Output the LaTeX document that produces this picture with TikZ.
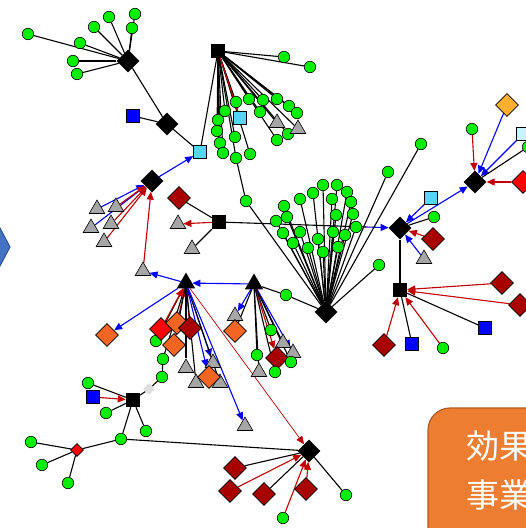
\documentclass[tikz,border=0pt]{standalone}
\usepackage{fontspec}
\newfontfamily\cjk{Noto Sans CJK JP}
\usetikzlibrary{shapes.geometric,arrows.meta,backgrounds}

\definecolor{ngreen}{HTML}{00EE00}
\definecolor{dred}{HTML}{A80000}
\definecolor{bred}{HTML}{FF0000}
\definecolor{norange}{HTML}{F26522}
\definecolor{yorange}{HTML}{FFB030}
\definecolor{lblue}{HTML}{55D6F5}
\definecolor{lcyan}{HTML}{C8F4FF}
\definecolor{tgray}{HTML}{A6A6A6}
\definecolor{eblue}{HTML}{0000FF}
\definecolor{ered}{HTML}{C00000}
\definecolor{boxorange}{HTML}{ED7D31}
\definecolor{boxline}{HTML}{AE5A21}
\definecolor{slideblue}{HTML}{4472C4}
\definecolor{slideline}{HTML}{2F528F}

\tikzset{
  grn/.style={circle, draw=black, fill=ngreen, minimum size=11.5pt, inner sep=0pt, line width=0.6pt},
  hubd/.style={diamond, fill=black, minimum size=23pt, inner sep=0pt},
  hubs/.style={rectangle, fill=black, minimum size=14pt, inner sep=0pt},
  hubt/.style={regular polygon, regular polygon sides=3, fill=black, minimum size=21pt, inner sep=0pt},
  gtri/.style={regular polygon, regular polygon sides=3, draw=black, fill=tgray, minimum size=18pt, inner sep=0pt, line width=0.6pt},
  rdia/.style={diamond, draw=black, fill=dred, minimum size=23pt, inner sep=0pt, line width=0.6pt},
  reddia/.style={rdia, fill=bred},
  odia/.style={rdia, fill=norange},
  ydia/.style={rdia, fill=yorange},
  bsq/.style={rectangle, draw=black, fill=eblue, minimum size=13pt, inner sep=0pt, line width=0.6pt},
  lbsq/.style={bsq, fill=lblue},
  lcsq/.style={bsq, fill=lcyan},
  lnk/.style={black, line width=1.1pt},
  redarr/.style={ered, line width=1.1pt, -{Triangle[length=8pt,width=7pt]}},
  bluearr/.style={eblue, line width=1.1pt, -{Triangle[length=8pt,width=7pt]}},
}

\begin{document}
\begin{tikzpicture}[x=1pt,y=-1pt]
  \useasboundingbox (0,0) rectangle (526,528);

  % slide shapes
  \draw[fill=slideblue, draw=slideline, line width=1pt] (-20,190) -- (10,247) -- (-20,304) -- cycle;
  \draw[fill=boxorange, draw=boxline, line width=1.2pt, rounded corners=22pt] (428,408) rectangle (580,580);
  \node[anchor=west, text=white, font=\cjk\fontsize{33}{33}\selectfont] (txtA) at (463,446) {効果};
  \node[anchor=west, text=white, font=\cjk\fontsize{33}{33}\selectfont] (txtB) at (463,495) {事業};

  % upper left
  \node[hubd] (A) at (128,61) {};
  \node[grn] (a1) at (28,34) {};
  \node[grn] (a2) at (80,43) {};
  \node[grn] (a3) at (94,27) {};
  \node[grn] (a4) at (109,17) {};
  \node[grn] (a5) at (135,14) {};
  \node[grn] (a6) at (132,28) {};
  \node[grn] (a7) at (73,61) {};
  \node[grn] (a8) at (77,74) {};
  \node[hubd] (B) at (167,124) {};
  \node[bsq] (bs1) at (133,116) {};
  \node[lbsq] (C) at (200,152) {};
  \node[hubd] (D) at (152,181) {};
  \node[gtri] (t1) at (97,209) {};
  \node[gtri] (t2) at (116,207) {};
  \node[gtri] (t3) at (91,228) {};
  \node[gtri] (t4) at (111,224) {};
  \node[gtri] (t5) at (104,242) {};
  \node[rdia] (rd1) at (179,198) {};
  \node[hubs] (E) at (219,222) {};
  \node[gtri] (t6) at (178,224) {};
  \node[gtri] (t7) at (192,249) {};
  \node[gtri] (t8) at (143,271) {};

  % top fan
  \node[hubs] (G) at (218,51) {};
  \node[grn] (g1) at (284,57) {};
  \node[grn] (g2) at (310,67) {};
  \node[grn] (f1) at (236,102) {};
  \node[grn] (f2) at (249,99) {};
  \node[grn] (f3) at (263,100) {};
  \node[grn] (f4) at (277,99) {};
  \node[grn] (f5) at (289,106) {};
  \node[grn] (f6) at (297,113) {};
  \node[grn] (f7) at (225,111) {};
  \node[grn] (f8) at (260,112) {};
  \node[grn] (f9) at (218,120) {};
  \node[grn] (f10) at (217,131) {};
  \node[grn] (f11) at (220,143) {};
  \node[grn] (f12) at (223,153) {};
  \node[grn] (f13) at (236,158) {};
  \node[grn] (f14) at (235,137) {};
  \node[grn] (f15) at (250,154) {};
  \node[grn] (f16) at (277,140) {};
  \node[grn] (f17) at (288,134) {};
  \node[lbsq] (lb2) at (240,118) {};
  \node[gtri] (t9) at (277,123) {};
  \node[gtri] (t10) at (298,129) {};
  \node[grn] (g3) at (246,201) {};

  % centre dome
  \node[hubd] (H) at (326,312) {};
  \node[grn] (d1) at (323,185) {};
  \node[grn] (d2) at (337,185) {};
  \node[grn] (d3) at (313,193) {};
  \node[grn] (d4) at (347,192) {};
  \node[grn] (d5) at (300,199) {};
  \node[grn] (d6) at (332,199) {};
  \node[grn] (d7) at (351,202) {};
  \node[grn] (d8) at (284,206) {};
  \node[grn] (d9) at (287,217) {};
  \node[grn] (d10) at (276,221) {};
  \node[grn] (d11) at (336,215) {};
  \node[grn] (d12) at (353,214) {};
  \node[grn] (d13) at (283,233) {};
  \node[grn] (d14) at (300,232) {};
  \node[grn] (d15) at (333,232) {};
  \node[grn] (d16) at (356,227) {};
  \node[grn] (d17) at (293,243) {};
  \node[grn] (d18) at (318,239) {};
  \node[grn] (d19) at (345,235) {};
  \node[grn] (d20) at (308,248) {};
  \node[grn] (d21) at (323,252) {};
  \node[grn] (d22) at (338,247) {};
  \node[grn] (g4) at (286,295) {};
  \node[grn] (g5) at (379,265) {};
  \node[grn] (g6) at (388,172) {};
  \node[grn] (g7) at (421,144) {};

  % right side
  \node[hubd] (F) at (400,228) {};
  \coordinate (ef) at (366,227);
  \node[lbsq] (lb3) at (431,198) {};
  \node[grn] (g8) at (434,217) {};
  \node[rdia] (rd2) at (433,239) {};
  \node[gtri] (t11) at (424,259) {};
  \node[hubd] (K) at (475,182) {};
  \node[ydia] (od1) at (507,105) {};
  \node[grn] (g9) at (472,129) {};
  \node[lcsq] (lc1) at (523,134) {};
  \node[grn] (g10) at (528,147) {};
  \node[reddia] (rdd1) at (523,182) {};
  \node[hubs] (L) at (400,290) {};
  \node[rdia] (rd3) at (502,283) {};
  \node[rdia] (rd4) at (520,305) {};
  \node[bsq] (bs2) at (485,328) {};
  \node[rdia] (rd5) at (384,345) {};
  \node[bsq] (bs3) at (412,344) {};
  \node[grn] (g11) at (443,348) {};

  % triangle hubs
  \node[hubt] (J1) at (186,283) {};
  \node[hubt] (J2) at (254,284) {};
  \node[odia] (od2) at (107,335) {};
  \node[grn] (g12) at (156,341) {};
  \node[grn] (g13) at (163,359) {};
  \node[grn] (g14) at (162,377) {};
  \node[reddia] (rdd2) at (161,329) {};
  \node[odia] (od3) at (177,323) {};
  \node[odia] (od4) at (174,345) {};
  \node[rdia] (rd6) at (190,328) {};
  \node[gtri] (t12) at (186,368) {};
  \node[gtri] (t13) at (213,363) {};
  \node[gtri] (t14) at (196,383) {};
  \node[gtri] (t15) at (220,383) {};
  \node[odia] (od5) at (209,377) {};
  \node[gtri] (t16) at (245,426) {};
  \node[gtri] (t17) at (235,316) {};
  \node[odia] (od6) at (235,331) {};
  \node[grn] (g15) at (271,330) {};
  \node[gtri] (t18) at (283,343) {};
  \node[gtri] (t19) at (293,353) {};
  \node[rdia] (rd7) at (277,358) {};
  \node[grn] (g16) at (257,355) {};
  \node[grn] (g17) at (291,362) {};
  \node[gtri] (t20) at (259,372) {};
  \node[grn] (g18) at (275,372) {};

  % lower left
  \node[hubs] (N) at (133,400) {};
  \node[diamond, fill=gray!25, minimum size=12pt, inner sep=0pt] (lg1) at (149,389) {};
  \node[grn] (g19) at (88,383) {};
  \node[bsq] (bs4) at (93,397) {};
  \node[grn] (g20) at (106,413) {};
  \node[grn] (g21) at (146,431) {};
  \node[grn] (g22) at (121,439) {};
  \node[reddia, minimum size=13pt] (P) at (77,450) {};
  \node[grn] (g23) at (31,442) {};
  \node[grn] (g24) at (42,465) {};
  \node[grn] (g25) at (68,483) {};

  % bottom hub
  \node[hubd] (M) at (309,451) {};
  \node[rdia] (rd8) at (235,468) {};
  \node[rdia] (rd9) at (230,491) {};
  \node[rdia] (rd10) at (264,494) {};
  \node[rdia] (rd11) at (306,489) {};
  \node[grn] (g26) at (346,495) {};
  \node[grn] (g27) at (283,518) {};

  \begin{scope}[on background layer]
    \foreach \i in {1,...,8} \draw[lnk] (A) -- (a\i);
    \draw[lnk] (A) -- (B);
    \draw[lnk] (B) -- (bs1);
    \draw[lnk] (B) -- (C);
    \draw[bluearr] (D) -- (C);
    \draw[bluearr] (t1) -- (D);
    \draw[bluearr] (t3) -- (D);
    \draw[redarr] (t2) -- (D);
    \draw[redarr] (t4) -- (D);
    \draw[redarr] (t5) -- (D);
    \draw[redarr] (t8) -- (D);
    \draw[lnk] (rd1) -- (E);
    \draw[redarr] (E) -- (t6);
    \draw[lnk] (t7) -- (E);
    \draw[lnk] (E) -- (ef);
    \draw[bluearr] (ef) -- (F);

    \draw[lnk] (G) -- (g1);
    \draw[lnk] (G) -- (g2);
    \draw[lnk] (G) -- (C);
    \foreach \i in {1,...,17} \draw[lnk] (G) -- (f\i);
    \draw[lnk] (G) -- (lb2);
    \draw[lnk] (G) -- (t9);
    \draw[lnk] (G) -- (t10);
    \draw[redarr] (G) -- (lb2);
    \draw[lnk] (f13) -- (g3);
    \draw[lnk] (g3) -- (H);

    \foreach \i in {1,...,22} \draw[lnk] (H) -- (d\i);
    \draw[lnk] (H) -- (g4);
    \draw[lnk] (J2) -- (g4);
    \draw[lnk] (H) -- (g5);
    \draw[lnk] (H) -- (g6);
    \draw[lnk] (H) -- (g7);

    \draw[bluearr] (lb3) -- (F);
    \draw[lnk] (g8) -- (F);
    \draw[redarr] (rd2) -- (F);
    \draw[bluearr] (t11) -- (F);
    \draw[bluearr] (F) -- (K);
    \draw[lnk] (F) -- (L);
    \draw[bluearr] (od1) -- (K);
    \draw[redarr] (g9) -- (K);
    \draw[bluearr] (lc1) -- (K);
    \draw[lnk] (g10) -- (K);
    \draw[redarr] (rdd1) -- (K);
    \draw[redarr] (rd3) -- (L);
    \draw[redarr] (rd4) -- (L);
    \draw[lnk] (bs2) -- (L);
    \draw[redarr] (rd5) -- (L);
    \draw[lnk] (bs3) -- (L);
    \draw[redarr] (g11) -- (L);

    \draw[bluearr] (J1) -- (t8);
    \draw[bluearr] (J2) -- (J1);
    \draw[bluearr] (J1) -- (od2);
    \draw[lnk] (J1) -- (g12);
    \draw[lnk] (J1) -- (g13);
    \draw[redarr] (rdd2) -- (J1);
    \draw[redarr] (od3) -- (J1);
    \draw[redarr] (rd6) -- (J1);
    \draw[lnk] (od4) -- (J1);
    \draw[lnk] (J1) -- (t12);
    \draw[bluearr] (J1) -- (t13);
    \draw[lnk] (J1) -- (t14);
    \draw[lnk] (J1) -- (t15);
    \draw[bluearr] (J1) -- (od5);
    \draw[bluearr] (J1) -- (t16);
    \draw[redarr, line width=0.7pt] (J1) -- (M);
    \draw[bluearr] (J2) -- (t17);
    \draw[lnk] (J2) -- (od6);
    \draw[lnk] (J2) -- (g15);
    \draw[lnk] (J2) -- (t18);
    \draw[bluearr] (J2) -- (t19);
    \draw[redarr] (J2) -- (rd7);
    \draw[lnk] (J2) -- (g16);
    \draw[lnk] (J2) -- (g17);
    \draw[lnk] (J2) -- (t20);
    \draw[lnk] (J2) -- (g18);

    \draw[lnk] (g19) -- (N);
    \draw[redarr] (bs4) -- (N);
    \draw[lnk] (g20) -- (N);
    \draw[lnk] (g21) -- (N);
    \draw[lnk] (g22) -- (N);
    \draw[lnk] (N) -- (lg1);
    \draw[lnk] (lg1) -- (g14);
    \draw[lnk] (g14) -- (g13);
    \draw[lnk] (P) -- (g23);
    \draw[lnk] (P) -- (g24);
    \draw[lnk] (P) -- (g25);
    \draw[lnk] (P) -- (g22);
    \draw[lnk] (g22) -- (M);

    \draw[lnk] (rd8) -- (M);
    \draw[redarr] (rd9) -- (M);
    \draw[lnk] (rd10) -- (M);
    \draw[redarr] (rd11) -- (M);
    \draw[lnk] (g26) -- (M);
    \draw[redarr] (g27) -- (M);
  \end{scope}
\end{tikzpicture}
\end{document}
